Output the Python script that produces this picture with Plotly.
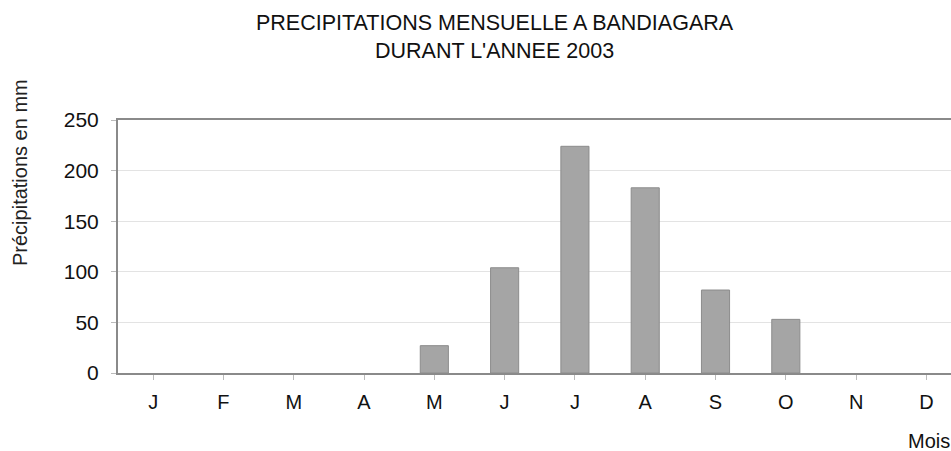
import plotly.graph_objects as go

months = ["J", "F", "M", "A", "M", "J", "J", "A", "S", "O", "N", "D"]
precip_mm = [0, 0, 0, 0, 27, 104, 224, 183, 82, 53, 0, 0]
y_ticks = [0, 50, 100, 150, 200, 250]

x_idx = list(range(len(months)))
FONT = "Liberation Sans, Arial, sans-serif"

W, H = 951, 451
L, T, B = 118, 120, 78
PW, PH = W - L, H - T - B

fig = go.Figure()
fig.add_trace(go.Bar(
    x=x_idx, y=precip_mm,
    marker=dict(color="#a5a5a5",
                line=dict(color="#8c8c8c", width=[0 if v == 0 else 1 for v in precip_mm])),
    width=0.4,
    hoverinfo="x+y",
))

fig.update_layout(
    width=W, height=H,
    margin=dict(l=L, r=0, t=T, b=B),
    paper_bgcolor="white", plot_bgcolor="white",
    showlegend=False,
    font=dict(family=FONT, size=20, color="#111"),
    xaxis=dict(
        tickmode="array", tickvals=x_idx, ticktext=months,
        range=[-0.5, 11.35],
        showgrid=False, zeroline=False,
        showline=True, linecolor="#8a8a8a", linewidth=2,
        mirror=True,
        ticks="outside", ticklen=5, tickcolor="#bbbbbb", tickwidth=1,
        tickson="boundaries",
        tickfont=dict(family=FONT, size=20, color="#111"),
        ticklabelstandoff=5,
        automargin=False,
    ),
    yaxis=dict(
        range=[0, 250], tickvals=y_ticks,
        showgrid=True, gridcolor="#e3e3e3", gridwidth=1,
        zeroline=False,
        showline=True, linecolor="#8a8a8a", linewidth=2,
        ticks="outside", ticklen=5, tickcolor="#bbbbbb",
        tickfont=dict(family=FONT, size=21, color="#111"),
        ticklabelstandoff=8,
        automargin=False,
    ),
    annotations=[
        dict(text="PRECIPITATIONS MENSUELLE A BANDIAGARA<br>DURANT L'ANNEE 2003",
             xref="paper", yref="paper",
             x=(495 - L) / PW, y=1 + (T - 9) / PH,
             showarrow=False, xanchor="center", yanchor="top",
             font=dict(family=FONT, size=21.5, color="#111")),
        dict(text="Précipitations en mm", xref="paper", yref="paper",
             x=(20 - L) / PW, y=(H - B - 173) / PH,
             showarrow=False, textangle=-90, xanchor="center", yanchor="middle",
             font=dict(family=FONT, size=20, color="#222")),
        dict(text="Mois", xref="paper", yref="paper",
             x=(929 - L) / PW, y=-(441 - (H - B)) / PH,
             showarrow=False, xanchor="center", yanchor="middle",
             font=dict(family=FONT, size=20, color="#111")),
    ],
)

fig.write_html("out.html", config={"displayModeBar": False})

# remove the default page margin so the figure sits at the window's top-left corner
with open("out.html", "r", encoding="utf-8") as f:
    html = f.read()
html = html.replace("<body>", '<body style="margin:0;padding:0;overflow:hidden">', 1)
with open("out.html", "w", encoding="utf-8") as f:
    f.write(html)
